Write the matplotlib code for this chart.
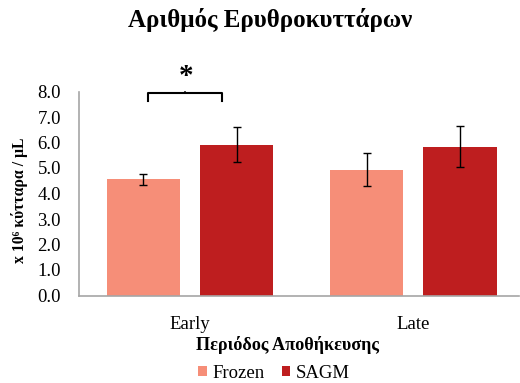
import matplotlib
matplotlib.use("Agg")
import matplotlib.pyplot as plt
import numpy as np

plt.rcParams['font.family'] = ['Liberation Serif', 'DejaVu Serif']

categories = ["Early", "Late"]
series_names = ["Frozen", "SAGM"]
frozen = [4.55, 4.93]
sagm = [5.92, 5.83]
frozen_err = [0.22, 0.64]
sagm_err = [0.69, 0.81]
yticks = [0.0, 1.0, 2.0, 3.0, 4.0, 5.0, 6.0, 7.0, 8.0]

title = "Αριθμός Ερυθροκυττάρων"
xlabel = "Περιόδος Αποθήκευσης"
ylabel = "x 10⁶ κύτταρα / μL"

c_frozen = "#F68E78"
c_sagm = "#BE1E1F"

fig = plt.figure(figsize=(5.2, 3.83), dpi=100)
ax = fig.add_axes([79/520, 87.5/383, 440/520, 204/383])

x = np.arange(len(categories))
w = 0.328
off = 0.209
ax.bar(x - off, frozen, w, color=c_frozen, label=series_names[0], zorder=2)
ax.bar(x + off, sagm, w, color=c_sagm, label=series_names[1], zorder=2)
ax.errorbar(x - off, frozen, yerr=frozen_err, fmt='none', ecolor='black',
            elinewidth=1, capsize=3.2, capthick=1, zorder=3)
ax.errorbar(x + off, sagm, yerr=sagm_err, fmt='none', ecolor='black',
            elinewidth=1, capsize=3.2, capthick=1, zorder=3)

ax.set_xlim(-0.497, 1.473)
ax.set_ylim(0, 8)
ax.set_yticks(yticks)
ax.set_yticklabels([f"{v:.1f}" for v in yticks])
ax.set_xticks(x)
ax.set_xticklabels(categories)
ax.tick_params(axis='both', length=0, labelsize=13.5)
ax.tick_params(axis='y', pad=13)
ax.tick_params(axis='x', pad=15)
for s in ['top', 'right']:
    ax.spines[s].set_visible(False)
for s in ['left', 'bottom']:
    ax.spines[s].set_color('#A6A6A6')
    ax.spines[s].set_linewidth(1.2)

# significance bracket
bx1, bx2, by, bend = -0.188, 0.142, 7.93, 7.62
ax.plot([bx1, bx1, bx2, bx2], [bend, by, by, bend], color='black', lw=1.5,
        clip_on=False, solid_joinstyle='round', zorder=4)
bm = (bx1 + bx2) / 2
ax.plot([bm, bm], [by, by + 0.06], color='black', lw=1.2, clip_on=False)
ax.text(bm + 0.005, 8.58, "*", ha='center', va='center', fontsize=21,
        fontweight='bold', clip_on=False)

fig.text(270/520, 1 - 20/383, title, ha='center', va='center',
         fontsize=18, fontweight='bold')
fig.text(287/520, 1 - 345/383, xlabel, ha='center', va='center',
         fontsize=13.1, fontweight='bold')
fig.text(20/520, 1 - 200/383, ylabel, ha='center', va='center',
         fontsize=11.3, fontweight='bold', rotation=90)

fig.legend(loc='center', bbox_to_anchor=(274/520, 1 - 373/383), ncol=2,
           frameon=False, fontsize=13.5, handlelength=0.45, handleheight=0.45,
           handletextpad=0.3, columnspacing=0.9)

fig.savefig("out.png", dpi=100)
